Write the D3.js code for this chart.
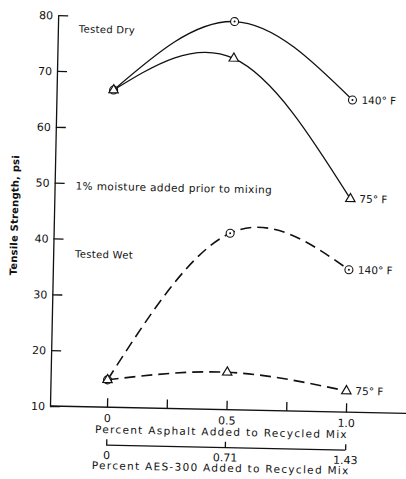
<!DOCTYPE html>
<html>
  <head>
    <script src="https://d3js.org/d3.v7.min.js"></script>
    <style type="text/css">
  body { margin:0; background:#fff; }
  text { font-family: "DejaVu Sans", sans-serif; fill:#111; }
  .axis path, .axis line { stroke:#111; stroke-width:1.3; }
  .axis text { font-size:11px; }
    </style>
  </head>
  <body>
  <div id="container"></div>
  <script type="text/javascript">

  // values
  var pctAsphalt = [0, 0.5, 1.0];
  var dry140 = [66.8, 79.5, 65.9];
  var dry75 = [66.8, 72.9, 48.2];
  var wet140 = [14.9, 41.6, 35.5];
  var wet75 = [14.9, 16.7, 13.8];

  var yTicks = [10, 20, 30, 40, 50, 60, 70, 80];
  var xTicks = [0, 0.25, 0.5, 0.75, 1.0];
  var xTickLabels = {0: "0", 0.5: "0.5", 1: "1.0"};
  var aesTicks = [0, 0.71, 1.43];
  var aesTickLabels = ["0", "0.71", "1.43"];

  var width = 406, height = 479;

  var svg = d3.select("#container").append("svg")
      .attr("width", width)
      .attr("height", height);

  // the scan is turned a little clockwise
  var g = svg.append("g").attr("transform", "rotate(1.2, 50, 406)");

  var x = d3.scaleLinear().domain([0, 1]).range([107, 346]);
  var y = d3.scaleLinear().domain([10, 80]).range([406, 15]);
  var xAes = d3.scaleLinear().domain([0, 1.43]).range([107, 346]);

  // y axis, ticks pointing in
  g.append("g")
      .attr("class", "axis")
      .attr("transform", "translate(50,0)")
      .call(d3.axisLeft(y).tickValues(yTicks).tickSizeInner(-10).tickSizeOuter(0).tickPadding(5))
    .call(function(a) { a.selectAll("text").attr("dy", "0.35em"); });

  // x axis
  var xa = g.append("g")
      .attr("class", "axis")
      .attr("transform", "translate(0,406)")
      .call(d3.axisBottom(x).tickValues(xTicks).tickSizeInner(-9).tickSizeOuter(0).tickPadding(7)
        .tickFormat(function(d) { return xTickLabels[d] || ""; }));
  xa.select(".domain").remove();
  xa.append("line").attr("x1", 50).attr("x2", width + 10).attr("stroke", "#111").attr("stroke-width", 1.3);

  // second scale: AES-300
  var aa = g.append("g")
      .attr("class", "axis")
      .attr("transform", "translate(0,444)")
      .call(d3.axisBottom(xAes).tickValues(aesTicks).tickSizeInner(-6).tickSizeOuter(0).tickPadding(6)
        .tickFormat(function(d, i) { return aesTickLabels[i]; }));
  aa.select(".domain").attr("d", "M" + xAes(0) + ",0H" + xAes(1.43));

  g.append("text").attr("x", 222).attr("y", 432)
      .attr("text-anchor", "middle").style("font-size", "10.5px").style("letter-spacing", "1.3px")
      .text("Percent Asphalt Added to Recycled Mix");
  g.append("text").attr("x", 222).attr("y", 468)
      .attr("text-anchor", "middle").style("font-size", "10.5px").style("letter-spacing", "1.3px")
      .text("Percent AES-300  Added to Recycled Mix");

  g.append("text")
      .attr("transform", "translate(14,216) rotate(-90)")
      .attr("text-anchor", "middle").style("font-size", "10px").style("font-weight", "bold")
      .style("letter-spacing", "0.2px")
      .text("Tensile Strength, psi");

  g.append("text").attr("x", 71).attr("y", 32).style("font-size", "10px").style("letter-spacing", "0.3px").text("Tested Dry");
  g.append("text").attr("x", 72).attr("y", 257).style("font-size", "10px").style("letter-spacing", "0.3px").text("Tested Wet");
  g.append("text").attr("x", 71).attr("y", 189).style("font-size", "10.5px").style("letter-spacing", "0.4px")
      .text("1% moisture added prior to mixing");

  var series = [
    {vals: dry140, mark: "circle", dash: null, label: "140° F"},
    {vals: dry75, mark: "triangle", dash: null, label: "75° F"},
    {vals: wet140, mark: "circle", dash: "11,6", label: "140° F"},
    {vals: wet75, mark: "triangle", dash: "11,6", label: "75° F"}
  ];

  var line = d3.line()
      .x(function(d, i) { return x(pctAsphalt[i]); })
      .y(function(d) { return y(d); })
      .curve(d3.curveNatural);

  series.forEach(function(s) {
    g.append("path")
        .attr("d", line(s.vals))
        .attr("fill", "none")
        .attr("stroke", "#111")
        .attr("stroke-width", s.dash ? 1.6 : 1.3)
        .attr("stroke-dasharray", s.dash);

    var pts = g.append("g").selectAll("g")
      .data(s.vals)
      .enter().append("g")
        .attr("transform", function(d, i) { return "translate(" + x(pctAsphalt[i]) + "," + y(d) + ")"; });

    if (s.mark == "circle") {
      pts.append("circle").attr("r", 4).attr("fill", "#fff").attr("stroke", "#111").attr("stroke-width", 1.1);
      pts.append("circle").attr("r", 1).attr("fill", "#111");
    } else {
      pts.append("path").attr("d", d3.symbol().type(d3.symbolTriangle).size(38))
          .attr("fill", "#fff").attr("stroke", "#111").attr("stroke-width", 1.2);
    }

    var last = s.vals.length - 1;
    g.append("text")
        .attr("x", x(pctAsphalt[last]) + 9)
        .attr("y", y(s.vals[last]))
        .attr("dy", "0.35em")
        .style("font-size", "10.5px")
        .text(s.label);
  });

  </script>
  </body>
</html>
